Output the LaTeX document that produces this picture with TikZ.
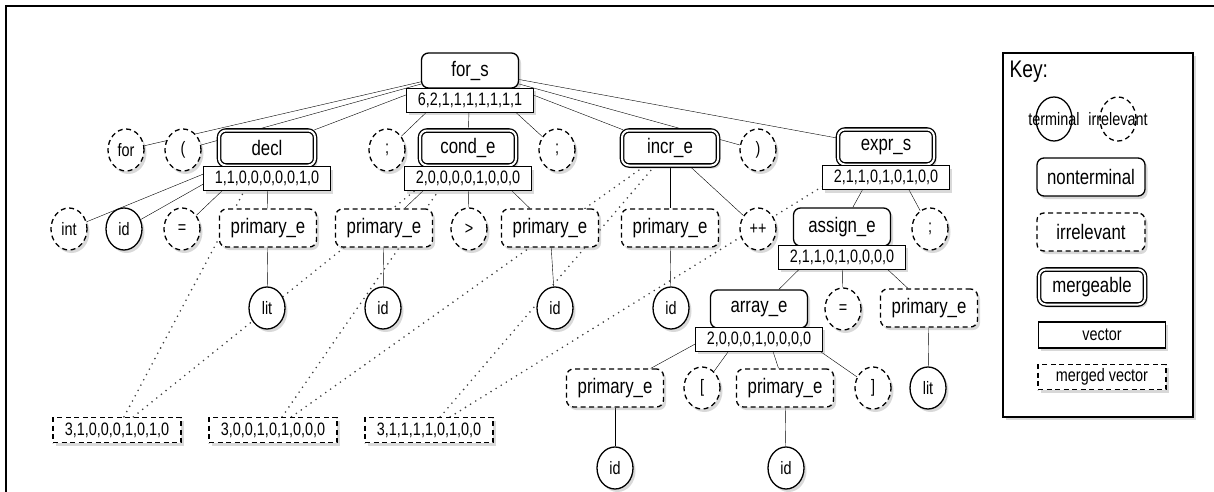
\documentclass[tikz,border=0pt]{standalone}
\usepackage{fontspec}
\setmainfont{Liberation Sans}[FakeStretch=0.8]
\usetikzlibrary{positioning,shapes.geometric,backgrounds,shadows}

\begin{document}
\begin{tikzpicture}[x=1pt, y=-1pt, line width=1.3pt,
  shd/.style={drop shadow={shadow xshift=2.5pt, shadow yshift=-3pt, opacity=0.3}},
  term/.style={ellipse, draw, fill=white, shd, minimum width=36pt, minimum height=42pt, inner sep=0pt, font=\fontsize{18}{20}\selectfont},
  irr/.style={term, dash pattern=on 5pt off 3.5pt},
  nt/.style={rectangle, rounded corners=7pt, draw, fill=white, shd, minimum width=97pt, minimum height=38pt, inner sep=0pt, font=\fontsize{21}{24}\selectfont},
  irrbox/.style={nt, dash pattern=on 5pt off 3.5pt},
  mrg/.style={nt, double, double distance=2pt, minimum width=96pt, minimum height=35pt},
  vec/.style={rectangle, draw, fill=white, shd, minimum width=127pt, minimum height=24pt, inner sep=0pt, font=\fontsize{18}{20}\selectfont},
  mvec/.style={vec, dash pattern=on 5pt off 3.5pt, minimum width=128pt, minimum height=25pt},
  mrgline/.style={line width=1.8pt, dash pattern=on 0pt off 6pt, line cap=round, black!75}]
  \useasboundingbox (0,0) rectangle (1214,492);
  \draw[line width=2.2pt] (6,492) -- (6,6) -- (1214,6);

  % tree
  \node[nt, minimum height=35pt] (1) at (470,70.5) {for\_s};
  \node[vec] (v1) [below=-1pt of 1] {6,2,1,1,1,1,1,1,1};
  \node[irr] (2) at (126,150) {for};
  \node[irr] (3) at (183,150) {(};
  \node[mrg] (4) at (267,148) {decl};
  \node[vec] (v4) [below=0pt of 4] {1,1,0,0,0,0,0,1,0};
  \node[irr] (5) at (387,150) {;};
  \node[mrg] (6) at (468,148) {cond\_e};
  \node[vec] (v6) [below=0pt of 6] {2,0,0,0,0,1,0,0,0};
  \node[irr] (7) at (557,150) {;};
  \node[mrg] (8) at (670,148) {incr\_e};
  \node[irr] (9) at (758,150) {)};
  \node[mrg] (10) at (886,147) {expr\_s};
  \node[vec] (v10) [below=0pt of 10] {2,1,1,0,1,0,1,0,0};

  \node[irr] (11) at (69,229) {int};
  \node[term] (12) at (124,229) {id};
  \node[irr] (13) at (182,229) {=};
  \node[irrbox] (14) at (268,228) {primary\_e};
  \node[irrbox] (15) at (384,228) {primary\_e};
  \node[irr] (16) at (469,229) {>};
  \node[irrbox] (17) at (550,228) {primary\_e};
  \node[irrbox] (18) at (670,228) {primary\_e};
  \node[irr] (19) at (758,229) {++};
  \node[nt] (20) at (842,227) {assign\_e};
  \node[vec] (v20) [below=-2pt of 20] {2,1,1,0,1,0,0,0,0};
  \node[irr] (21) at (930,229) {;};

  \node[term] (22) at (267,308) {lit};
  \node[term] (23) at (383,308) {id};
  \node[term] (24) at (555,308) {id};
  \node[term] (25) at (671,308) {id};
  \node[nt] (26) at (759,309) {array\_e};
  \node[vec] (v26) [below=-2pt of 26] {2,0,0,0,1,0,0,0,0};
  \node[irr] (27) at (843,309) {=};
  \node[irrbox] (28) at (929,308) {primary\_e};

  \node[irrbox] (29) at (615,388) {primary\_e};
  \node[irr] (30) at (702,388) {[};
  \node[irrbox] (31) at (785,388) {primary\_e};
  \node[irr] (32) at (873,388) {]};
  \node[term] (33) at (928,388) {lit};
  \node[term] (34) at (615,468) {id};
  \node[term] (35) at (786,468) {id};

  \node[mvec] (m1) at (117,430) {3,1,0,0,0,1,0,1,0};
  \node[mvec] (m2) at (273,430) {3,0,0,1,0,1,0,0,0};
  \node[mvec] (m3) at (429,430) {3,1,1,1,1,0,1,0,0};

  \begin{scope}[on background layer, line width=1.3pt]
    \draw (1) -- (2);
    \draw (1) -- (3);
    \draw (1) -- (4);
    \draw (1) -- (5);
    \draw (1) -- (6);
    \draw (1) -- (7);
    \draw (1) -- (8);
    \draw (1) -- (9);
    \draw (1) -- (10);
    \draw (4) -- (11);
    \draw (4) -- (12);
    \draw (4) -- (13);
    \draw (4) -- (14);
    \draw (6) -- (15);
    \draw (6) -- (16);
    \draw (6) -- (17);
    \draw (8) -- (18);
    \draw (8) -- (19);
    \draw (10) -- (20);
    \draw (10) -- (21);
    \draw (20) -- (26);
    \draw (20) -- (27);
    \draw (20) -- (28);
    \draw (26) -- (29);
    \draw (26) -- (30);
    \draw (26) -- (31);
    \draw (26) -- (32);
    \draw (14) -- (22);
    \draw (15) -- (23);
    \draw (17) -- (24);
    \draw (18) -- (25);
    \draw (28) -- (33);
    \draw (29) -- (34);
    \draw (31) -- (35);
    % merges
    \draw[mrgline] (m1) -- (4);
    \draw[mrgline] (m1) -- (6);
    \draw[mrgline] (m2) -- (6);
    \draw[mrgline] (m2) -- (8);
    \draw[mrgline] (m3) -- (8);
    \draw[mrgline] (m3) -- (10);
  \end{scope}

  % key
  \node[rectangle, draw, fill=white, shd, line width=1.5pt, minimum width=190pt, minimum height=364pt] (k0) at (1098,235) {};
  \node[anchor=west, inner sep=0pt, font=\fontsize{24}{26}\selectfont] (k1) at (1009,72) {Key:};
  \node[ellipse, draw, minimum width=36pt, minimum height=44pt, label={[font=\fontsize{18}{20}\selectfont]center:terminal}] (k2) at (1054,119) {};
  \node[ellipse, draw, dash pattern=on 5pt off 3.5pt, minimum width=36pt, minimum height=44pt, label={[font=\fontsize{18}{20}\selectfont]center:irrelevant}] (k3) at (1118,119) {};
  \node[nt, minimum width=108pt] (k4) at (1091,177) {nonterminal};
  \node[irrbox, minimum width=108pt] (k5) at (1091,232) {irrelevant};
  \node[mrg, minimum width=106pt] (k6) at (1092,287) {mergeable};
  \node[vec, minimum height=26pt] (k7) at (1102,335) {vector};
  \node[mvec] (k8) at (1102,377) {merged vector};
\end{tikzpicture}
\end{document}
